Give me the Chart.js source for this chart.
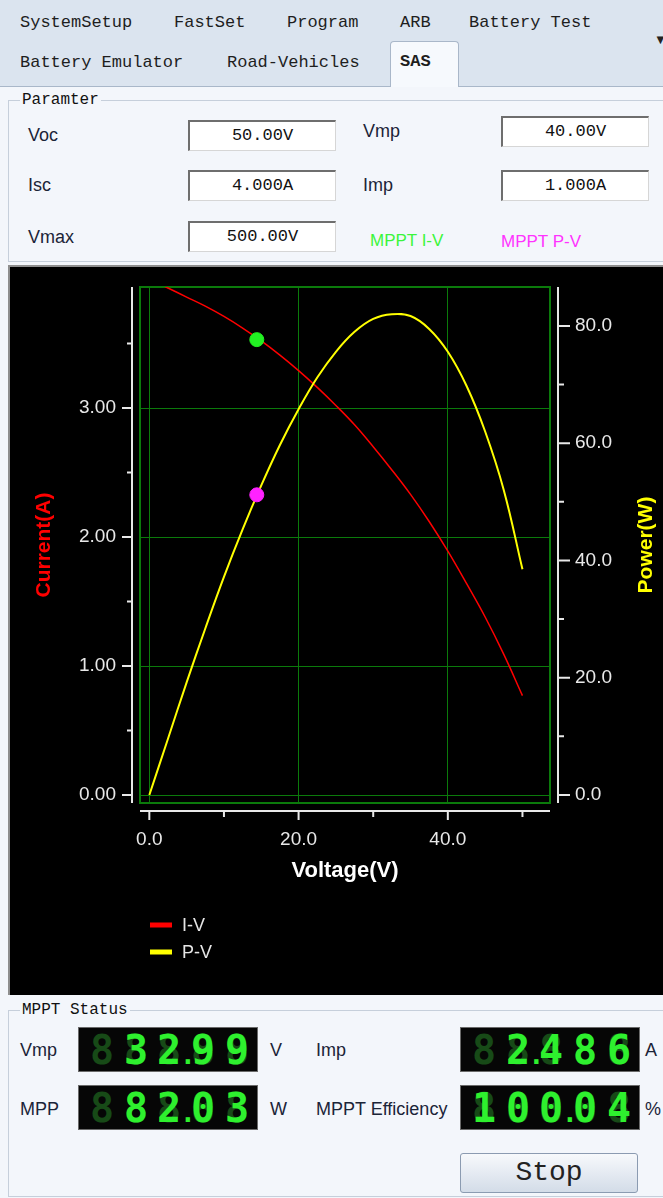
<!DOCTYPE html>
<html lang="en">
<head>
<meta charset="UTF-8">
<title>SAS</title>
<script src="https://cdn.jsdelivr.net/npm/chart.js"></script>
<style>
  body { margin:0; width:663px; height:1198px; overflow:hidden; position:relative;
         background:#f3f6fb; font-family:"Liberation Sans", Arial, sans-serif; color:#1b2438; }
  .abs { position:absolute; white-space:nowrap; }
  .tabbar { left:0; top:0; width:663px; height:86px; background:#dbe4ef; border-bottom:1px solid #a9b7c9; }
  .tab { font-family:"Liberation Mono", monospace; font-size:17px; line-height:20px; color:#1e1e1e; }
  .tabsel { left:390px; top:41px; width:69px; height:46px; background:#f6f9fd; border:1px solid #a9b7c9;
            border-bottom:none; border-radius:4px 4px 0 0; box-sizing:border-box; }
  .group { border:1px solid #c6cfdb; box-sizing:border-box; }
  .gtitle { font-family:"Liberation Mono", monospace; font-size:16px; line-height:18px; background:#f3f6fb; padding:0 2px; color:#111; }
  .lbl { font-size:18px; line-height:22px; }
  .inp { background:#fff; box-sizing:border-box; width:148px; height:31px; border-style:solid; border-width:2px 1px 1px 2px;
         border-color:#6e6e6e #d6d6d6 #d6d6d6 #6e6e6e; font-family:"Liberation Mono", monospace; font-size:17px;
         line-height:27px; text-align:center; color:#111; }
  .frame { left:8px; top:265px; width:655px; height:730px; background:#8e8e8e; }
  #pv { position:absolute; left:10px; top:267px; background:#000; }
  .lcd { width:180px; height:45px; background:#060606; border:1px solid #6a6a6a; box-sizing:border-box; }
  .cell { position:absolute; top:0; width:22px; height:43px; text-align:center; font-family:"DejaVu Sans Mono", monospace;
          font-weight:bold; font-size:40px; line-height:45px; color:#2ef02e; }
  .cell::before { content:'8'; position:absolute; left:0; right:0; top:0; color:#174a17; z-index:0; }
  .cell span { position:relative; z-index:1; }
  .dot { position:absolute; top:5px; width:10px; text-align:center; font-family:"DejaVu Sans Mono", monospace;
         font-weight:bold; font-size:26px; line-height:45px; color:#2ef02e; }
  .btn { left:460px; top:1153px; width:178px; height:40px; box-sizing:border-box; border:1px solid #8b9bb1; border-radius:3px;
         background:linear-gradient(#f7f9fc, #d3dce8); font-family:"Liberation Mono", monospace; font-size:28px;
         line-height:38px; text-align:center; color:#222; }
</style>
</head>
<body>

<div class="abs tabbar"></div>
<div class="abs tab" style="left:20px; top:13px;">SystemSetup</div>
<div class="abs tab" style="left:174px; top:13px;">FastSet</div>
<div class="abs tab" style="left:287px; top:13px;">Program</div>
<div class="abs tab" style="left:400px; top:13px;">ARB</div>
<div class="abs tab" style="left:469px; top:13px;">Battery Test</div>
<div class="abs tab" style="left:20px; top:53px;">Battery Emulator</div>
<div class="abs tab" style="left:227px; top:53px;">Road-Vehicles</div>
<div class="abs tabsel"></div>
<div class="abs tab" style="left:400px; top:52px; font-weight:bold;">SAS</div>
<div class="abs" style="left:654px; top:32px; font-size:13px; color:#222;">▼</div>

<div class="abs group" style="left:8px; top:100px; width:660px; height:162px;"></div>
<div class="abs gtitle" style="left:20px; top:91px;">Paramter</div>
<div class="abs lbl" style="left:28px; top:124px;">Voc</div>
<div class="abs lbl" style="left:28px; top:174px;">Isc</div>
<div class="abs lbl" style="left:28px; top:226px;">Vmax</div>
<div class="abs lbl" style="left:363px; top:120px;">Vmp</div>
<div class="abs lbl" style="left:363px; top:174px;">Imp</div>
<div class="abs inp" style="left:188px; top:120px;">50.00V</div>
<div class="abs inp" style="left:188px; top:170px;">4.000A</div>
<div class="abs inp" style="left:188px; top:221px;">500.00V</div>
<div class="abs inp" style="left:501px; top:116px;">40.00V</div>
<div class="abs inp" style="left:501px; top:170px;">1.000A</div>
<div class="abs lbl" style="left:370px; top:230px; font-size:17px; color:#3cf53c;">MPPT I-V</div>
<div class="abs lbl" style="left:501px; top:231px; font-size:17px; color:#ff33ff;">MPPT P-V</div>

<div class="abs frame"></div>
<canvas id="pv" width="653" height="728" style="width:653px; height:728px;"></canvas>

<div class="abs group" style="left:8px; top:1010px; width:660px; height:187px;"></div>
<div class="abs gtitle" style="left:20px; top:1001px;">MPPT Status</div>
<div class="abs lbl" style="left:20px; top:1039px;">Vmp</div>
<div class="abs lbl" style="left:20px; top:1098px;">MPP</div>
<div class="abs lbl" style="left:270px; top:1039px;">V</div>
<div class="abs lbl" style="left:270px; top:1098px;">W</div>
<div class="abs lbl" style="left:316px; top:1039px;">Imp</div>
<div class="abs lbl" style="left:316px; top:1098px;">MPPT Efficiency</div>
<div class="abs lbl" style="left:645px; top:1039px;">A</div>
<div class="abs lbl" style="left:645px; top:1098px;">%</div>
<div class="abs lcd" id="lcdVmp" style="left:78px; top:1027px;"></div>
<div class="abs lcd" id="lcdMpp" style="left:78px; top:1085px;"></div>
<div class="abs lcd" id="lcdImp" style="left:460px; top:1027px;"></div>
<div class="abs lcd" id="lcdEff" style="left:460px; top:1085px;"></div>
<div class="abs btn">Stop</div>

<script>
    // I-V / P-V curves
    const voltage  = [0, 2.5, 5, 7.5, 10, 12.5, 15, 17.5, 20, 22.5, 25, 27.5, 30, 32.5, 35, 37.5, 40, 42.5, 45, 47.5, 50];
    const currentA = [4.00, 3.93, 3.86, 3.79, 3.71, 3.62, 3.52, 3.41, 3.29, 3.16, 3.02, 2.87, 2.70, 2.52, 2.33, 2.12, 1.89, 1.64, 1.38, 1.09, 0.77];
    const powerW   = [0, 9.6, 19.2, 28.4, 37.2, 45.3, 52.8, 59.7, 65.8, 71.2, 75.6, 79.0, 81.2, 82.0, 81.7, 79.5, 75.6, 69.8, 62.0, 52.0, 38.5];

    // current MPPT operating point
    const mpptVoltage = 14.4;
    const mpptCurrent = 3.53;
    const mpptPower   = 51.2;

    // axis ticks
    const voltTicks    = [0, 20, 40];
    const voltMinor    = [10, 30, 50];
    const currentTicks = [0, 1, 2, 3];
    const currentMinor = [0.5, 1.5, 2.5, 3.5];
    const powerTicks   = [0, 20, 40, 60, 80];
    const powerMinor   = [10, 30, 50, 70];

    // LCD readouts
    const lcdValues = { lcdVmp: '32.99', lcdImp: '2.486', lcdMpp: '82.03', lcdEff: '100.04' };

    const gridGreen = '#0b7a0b';
    const axisColor = '#e8e8e8';
    const tickFont = { family: 'Liberation Sans', size: 19 };

    const pairs = (xs, ys) => xs.map((v, i) => ({ x: v, y: ys[i] }));

    // offset axes, titles and legend, the way the instrument draws them
    const decor = {
        id: 'decor',
        beforeDatasetsDraw(chart) {
            const { ctx, chartArea: a } = chart;
            ctx.save();
            ctx.strokeStyle = gridGreen;
            ctx.lineWidth = 2;
            ctx.strokeRect(a.left, a.top, a.right - a.left, a.bottom - a.top);
            ctx.restore();
        },
        afterDraw(chart) {
            const { ctx, chartArea: a, scales } = chart;
            const lx = a.left - 8, rx = a.right + 8, by = a.bottom + 8;
            ctx.save();
            ctx.strokeStyle = axisColor;
            ctx.lineWidth = 2;
            ctx.beginPath();
            ctx.moveTo(lx, a.top); ctx.lineTo(lx, a.bottom);
            ctx.moveTo(rx, a.top); ctx.lineTo(rx, a.bottom);
            ctx.moveTo(a.left, by); ctx.lineTo(a.right, by);
            currentTicks.forEach(v => { const p = scales.yI.getPixelForValue(v); ctx.moveTo(lx - 10, p); ctx.lineTo(lx, p); });
            currentMinor.forEach(v => { const p = scales.yI.getPixelForValue(v); ctx.moveTo(lx - 5, p); ctx.lineTo(lx, p); });
            powerTicks.forEach(v => { const p = scales.yP.getPixelForValue(v); ctx.moveTo(rx, p); ctx.lineTo(rx + 12, p); });
            powerMinor.forEach(v => { const p = scales.yP.getPixelForValue(v); ctx.moveTo(rx, p); ctx.lineTo(rx + 6, p); });
            voltTicks.forEach(v => { const p = scales.x.getPixelForValue(v); ctx.moveTo(p, by); ctx.lineTo(p, by + 9); });
            voltMinor.forEach(v => { const p = scales.x.getPixelForValue(v); ctx.moveTo(p, by); ctx.lineTo(p, by + 6); });
            ctx.stroke();

            // axis titles
            const midY = (a.top + a.bottom) / 2;
            ctx.textAlign = 'center';
            ctx.textBaseline = 'middle';
            ctx.font = 'bold 21px "Liberation Sans"';
            ctx.fillStyle = '#ff0000';
            ctx.save(); ctx.translate(a.left - 96, midY); ctx.rotate(-Math.PI / 2); ctx.fillText('Current(A)', 0, 0); ctx.restore();
            ctx.fillStyle = '#ffff00';
            ctx.save(); ctx.translate(a.right + 96, midY); ctx.rotate(-Math.PI / 2); ctx.fillText('Power(W)', 0, 0); ctx.restore();
            ctx.font = 'bold 22px "Liberation Sans"';
            ctx.fillStyle = '#ffffff';
            ctx.fillText('Voltage(V)', (a.left + a.right) / 2, a.bottom + 68);

            // legend
            ctx.textAlign = 'left';
            ctx.font = '18px "Liberation Sans"';
            chart.data.datasets.filter(d => d.inLegend).forEach((d, i) => {
                const y = a.bottom + 122 + i * 27;
                ctx.fillStyle = d.borderColor;
                ctx.fillRect(a.left + 10, y - 2.5, 22, 5);
                ctx.fillStyle = '#e6e6e6';
                ctx.fillText(d.label, a.left + 42, y + 1);
            });
            ctx.restore();
        }
    };

    const noPadY = s => { s.paddingTop = 0; s.paddingBottom = 0; };

    const config = {
        type: 'line',
        data: {
            datasets: [
                {
                    label: 'MPPT I-V', yAxisID: 'yI', order: 0, showLine: false,
                    data: [{ x: mpptVoltage, y: mpptCurrent }],
                    pointRadius: 7, pointBackgroundColor: '#22f022', pointBorderColor: '#22f022'
                },
                {
                    label: 'MPPT P-V', yAxisID: 'yP', order: 0, showLine: false,
                    data: [{ x: mpptVoltage, y: mpptPower }],
                    pointRadius: 7, pointBackgroundColor: '#ff22ff', pointBorderColor: '#ff22ff'
                },
                {
                    label: 'I-V', yAxisID: 'yI', order: 2, inLegend: true,
                    data: pairs(voltage, currentA),
                    borderColor: '#ff0000', borderWidth: 1.5, pointRadius: 0, tension: 0.4
                },
                {
                    label: 'P-V', yAxisID: 'yP', order: 1, inLegend: true,
                    data: pairs(voltage, powerW),
                    borderColor: '#ffff00', borderWidth: 2, pointRadius: 0, tension: 0.4
                }
            ]
        },
        options: {
            responsive: false,
            animation: false,
            devicePixelRatio: 1,
            layout: { padding: { top: 20, left: 0, right: 0, bottom: 0 } },
            plugins: { legend: { display: false }, tooltip: { enabled: false } },
            scales: {
                x: {
                    type: 'linear', position: 'bottom', min: -1.25, max: 53.69,
                    afterBuildTicks: s => { s.ticks = voltTicks.map(v => ({ value: v })); },
                    afterFit: s => { s.height = 192; s.paddingLeft = 0; s.paddingRight = 0; },
                    ticks: { color: axisColor, font: tickFont, padding: 25, maxRotation: 0, autoSkip: false,
                             callback: v => v.toFixed(1) },
                    grid: { color: gridGreen, lineWidth: 1, drawTicks: false },
                    border: { display: false }
                },
                yI: {
                    type: 'linear', position: 'left', min: -0.062, max: 3.938,
                    afterBuildTicks: s => { s.ticks = currentTicks.map(v => ({ value: v })); },
                    afterFit: s => { s.width = 130; noPadY(s); },
                    ticks: { color: axisColor, font: tickFont, padding: 24, callback: v => v.toFixed(2) },
                    grid: { color: gridGreen, lineWidth: 1, drawTicks: false },
                    border: { display: false }
                },
                yP: {
                    type: 'linear', position: 'right', min: -1.365, max: 86.65,
                    afterBuildTicks: s => { s.ticks = powerTicks.map(v => ({ value: v })); },
                    afterFit: s => { s.width = 113; noPadY(s); },
                    ticks: { color: axisColor, font: tickFont, padding: 25, callback: v => v.toFixed(1) },
                    grid: { display: false, drawTicks: false },
                    border: { display: false }
                }
            }
        },
        plugins: [decor]
    };

    const pvChart = new Chart(document.getElementById('pv'), config);

    // seven-segment style readouts: 5 digit cells, right aligned
    const cellX = [11, 45, 78, 112, 146];
    Object.keys(lcdValues).forEach(id => {
        const box = document.getElementById(id);
        const text = lcdValues[id];
        const digits = text.replace('.', '').split('');
        const dotAfter = text.indexOf('.') - 1;   // index of digit before the point
        const start = cellX.length - digits.length;
        cellX.forEach((x, i) => {
            const cell = document.createElement('div');
            cell.className = 'cell';
            cell.style.left = x + 'px';
            const d = i - start;
            if (d >= 0) {
                const s = document.createElement('span');
                s.textContent = digits[d];
                cell.appendChild(s);
            }
            box.appendChild(cell);
            if (d >= 0 && d === dotAfter) {
                const dot = document.createElement('div');
                dot.className = 'dot';
                dot.textContent = '.';
                dot.style.left = (x + 22 + (cellX[i + 1] - x - 22) / 2 - 5) + 'px';
                box.appendChild(dot);
            }
        });
    });
</script>

</body>
</html>
